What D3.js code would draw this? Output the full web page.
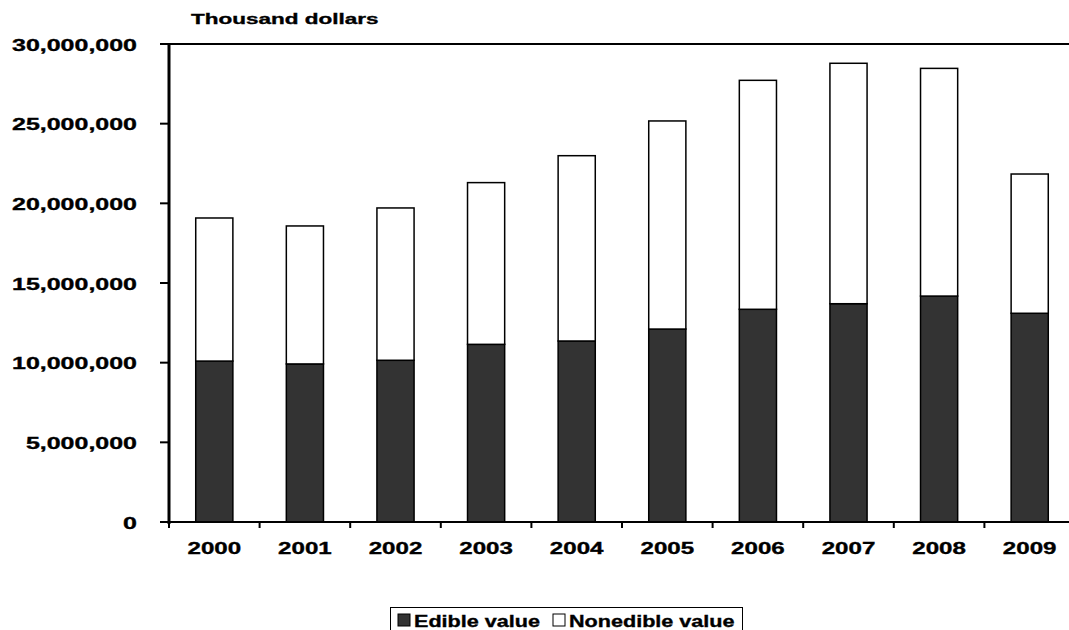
<!DOCTYPE html>
<html>
<head>
<meta charset="utf-8">
<script src="https://cdn.jsdelivr.net/npm/d3@7/dist/d3.min.js"></script>
<style>
  html, body { margin: 0; padding: 0; background: #fff; }
  svg { display: block; font-family: "Liberation Sans", Arial, sans-serif; font-weight: bold; }
  text { fill: #000; stroke: #000; stroke-width: 0.35px; }
</style>
</head>
<body>
<div id="chart"></div>
<script>
// ── Data (thousand dollars) ──
const years = ['2000', '2001', '2002', '2003', '2004', '2005', '2006', '2007', '2008', '2009'];
const edible = [10100000, 9920000, 10150000, 11150000, 11360000, 12110000, 13350000, 13700000, 14180000, 13100000];
const nonedible = [8980000, 8660000, 9560000, 10150000, 11630000, 13060000, 14370000, 15090000, 14290000, 8740000];
const yTicks = [0, 5000000, 10000000, 15000000, 20000000, 25000000, 30000000];
const seriesNames = ['Edible value', 'Nonedible value'];
const seriesColors = ['#333333', '#ffffff'];

const W = 1069, H = 630;
const plotLeft = 169, plotTop = 44, plotBottom = 522;
const bandW = 90.6;
const plotRight = plotLeft + bandW * years.length;

const svg = d3.select('#chart').append('svg')
  .attr('width', W).attr('height', H);

const x = d3.scaleBand().domain(years).range([plotLeft, plotRight]).paddingInner(0.59).paddingOuter(0.295);
const y = d3.scaleLinear().domain([0, 30000000]).range([plotBottom, plotTop]);

const fmt = d3.format(',');

// text in the reference is drawn wide, so stretch it horizontally
function place(sel, fx, fy, sx) {
  sel.attr('transform', function(d, i) {
    return 'translate(' + fx(d, i) + ',' + fy(d, i) + ') scale(' + sx + ',1)';
  });
}

// ── Stack ──
const rows = years.map(function(yr, i) { return { year: yr, edible: edible[i], nonedible: nonedible[i] }; });
const stack = d3.stack().keys(['edible', 'nonedible'])(rows);

svg.append('g').selectAll('g').data(stack).join('g')
  .attr('fill', function(d, i) { return seriesColors[i]; })
  .selectAll('rect').data(function(d) { return d; }).join('rect')
  .attr('x', function(d) { return x(d.data.year); })
  .attr('width', x.bandwidth())
  .attr('y', function(d) { return y(d[1]); })
  .attr('height', function(d) { return y(d[0]) - y(d[1]); })
  .attr('stroke', '#000').attr('stroke-width', 1.5);

// ── Top frame line ──
svg.append('line')
  .attr('x1', plotLeft - 9).attr('x2', W).attr('y1', y(30000000)).attr('y2', y(30000000))
  .attr('stroke', '#000').attr('stroke-width', 2);

// ── X axis ──
const xAxis = svg.append('g').attr('transform', 'translate(0,' + plotBottom + ')');
xAxis.append('line').attr('x1', plotLeft - 9).attr('x2', W).attr('stroke', '#000').attr('stroke-width', 2);
xAxis.selectAll('.xt').data(d3.range(years.length + 1)).join('line').attr('class', 'xt')
  .attr('x1', function(i) { return plotLeft + i * bandW; })
  .attr('x2', function(i) { return plotLeft + i * bandW; })
  .attr('y1', 0).attr('y2', 6)
  .attr('stroke', '#000').attr('stroke-width', 2);
xAxis.selectAll('text').data(years).join('text')
  .attr('text-anchor', 'middle')
  .attr('font-size', 17)
  .text(function(d) { return d; })
  .call(place, function(d) { return x(d) + x.bandwidth() / 2; }, function() { return 32; }, 1.42);

// ── Y axis ──
const yAxis = svg.append('g');
yAxis.append('line').attr('x1', plotLeft).attr('x2', plotLeft).attr('y1', plotTop).attr('y2', plotBottom + 2)
  .attr('stroke', '#000').attr('stroke-width', 3);
yAxis.selectAll('line.yt').data(yTicks).join('line').attr('class', 'yt')
  .attr('x1', plotLeft - 9).attr('x2', plotLeft)
  .attr('y1', function(d) { return y(d); }).attr('y2', function(d) { return y(d); })
  .attr('stroke', '#000').attr('stroke-width', 2);
yAxis.selectAll('text').data(yTicks).join('text')
  .attr('text-anchor', 'end')
  .attr('font-size', 17)
  .text(function(d) { return fmt(d); })
  .call(place, function() { return 137; }, function(d) { return y(d) + 6.5; }, 1.47);

svg.append('text')
  .attr('font-size', 15)
  .text('Thousand dollars')
  .call(place, function() { return 191; }, function() { return 24; }, 1.5);

// ── Legend ──
const lg = svg.append('g');
lg.append('rect').attr('x', 390.5).attr('y', 607.5).attr('width', 352).attr('height', 30)
  .attr('fill', '#fff').attr('stroke', '#000').attr('stroke-width', 1);
const legendX = [398, 553];
seriesNames.forEach(function(name, i) {
  lg.append('rect').attr('x', legendX[i]).attr('y', 614).attr('width', 12).attr('height', 12)
    .attr('fill', seriesColors[i]).attr('stroke', '#000').attr('stroke-width', 1);
  lg.append('text').datum(name)
    .attr('font-size', 17).text(name)
    .call(place, function() { return legendX[i] + 16; }, function() { return 627; }, 1.27);
});
</script>
</body>
</html>
